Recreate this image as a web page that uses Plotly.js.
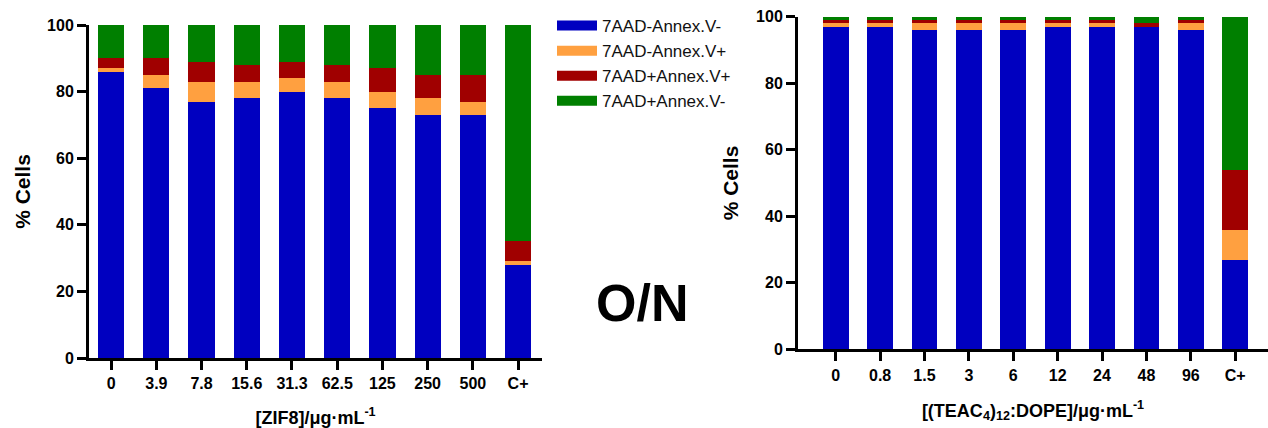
<!DOCTYPE html>
<html>
<head>
<meta charset="utf-8">
<script src="https://cdn.plot.ly/plotly-3.0.1.min.js"></script>
<style>html,body{margin:0;padding:0;background:#fff;}#chart{width:1268px;height:428px;}</style>
</head>
<body>
<div id="chart"></div>
<script>
// ---- Data ----
const seriesNames = ["7AAD-Annex.V-", "7AAD-Annex.V+", "7AAD+Annex.V+", "7AAD+Annex.V-"];
const seriesColors = ["#0000c0", "#ffa040", "#a00000", "#007f00"];

const zifCategories = ["0", "3.9", "7.8", "15.6", "31.3", "62.5", "125", "250", "500", "C+"];
const zifLiveNeg   = [86, 81, 77, 78, 80, 78, 75, 73, 73, 28];
const zifEarlyApop = [1, 4, 6, 5, 4, 5, 5, 5, 4, 1];
const zifLateApop  = [3, 5, 6, 5, 5, 5, 7, 7, 8, 6];
const zifNecrotic  = [10, 10, 11, 12, 11, 12, 13, 15, 15, 65];

const teacCategories = ["0", "0.8", "1.5", "3", "6", "12", "24", "48", "96", "C+"];
const teacLiveNeg   = [97, 97, 96, 96, 96, 97, 97, 97, 96, 27];
const teacEarlyApop = [1, 1, 2, 2, 2, 1, 1, 0, 2, 9];
const teacLateApop  = [1, 1, 1, 1, 1, 1, 1, 1, 1, 18];
const teacNecrotic  = [1, 1, 1, 1, 1, 1, 1, 2, 1, 46];

const zifSeries = [zifLiveNeg, zifEarlyApop, zifLateApop, zifNecrotic];
const teacSeries = [teacLiveNeg, teacEarlyApop, teacLateApop, teacNecrotic];

// ---- Traces ----
const traces = [];
zifSeries.forEach((vals, i) => {
  traces.push({
    type: "bar", x: zifCategories, y: vals, name: seriesNames[i],
    marker: {color: seriesColors[i], line: {width: 0}},
    xaxis: "x", yaxis: "y", showlegend: false, width: 0.58, hoverinfo: "y"
  });
});
teacSeries.forEach((vals, i) => {
  traces.push({
    type: "bar", x: teacCategories, y: vals, name: seriesNames[i],
    marker: {color: seriesColors[i], line: {width: 0}},
    xaxis: "x2", yaxis: "y2", showlegend: false, width: 0.58, hoverinfo: "y"
  });
});
// legend entries (wide swatches)
seriesNames.forEach((n, i) => {
  traces.push({
    type: "scatter", mode: "lines", x: [null], y: [null], name: n,
    line: {color: seriesColors[i], width: 12},
    xaxis: "x", yaxis: "y", showlegend: true, hoverinfo: "skip"
  });
});

const tickFont = {family: "Liberation Sans, Arial, sans-serif", size: 16, color: "#000", weight: "bold"};
const titleFont = {family: "Liberation Sans, Arial, sans-serif", size: 18, color: "#000", weight: "bold"};
const yTitleFont = {family: "Liberation Sans, Arial, sans-serif", size: 21, color: "#000", weight: "bold"};

const yBase = {
  range: [0, 100], tickvals: [0, 20, 40, 60, 80, 100], ticks: "outside", ticklen: 9, tickwidth: 3,
  tickcolor: "#000", showline: true, linecolor: "#000", linewidth: 3, showgrid: false, zeroline: false,
  tickfont: tickFont, fixedrange: true
};
const xBase = {
  type: "category", ticks: "outside", ticklen: 9, tickwidth: 3, tickcolor: "#000",
  showline: true, linecolor: "#000", linewidth: 3, showgrid: false, zeroline: false,
  tickfont: tickFont, fixedrange: true
};

const layout = {
  width: 1268, height: 428,
  margin: {l: 0, r: 0, t: 0, b: 0},
  paper_bgcolor: "#fff", plot_bgcolor: "#fff",
  barmode: "stack",
  showlegend: true,
  legend: {
    x: 552/1268, y: 1 - 8/428, xanchor: "left", yanchor: "top",
    traceorder: "normal",
    font: {family: "Liberation Sans, Arial, sans-serif", size: 17, color: "#111"},
    bgcolor: "rgba(0,0,0,0)", itemwidth: 40, tracegroupgap: 0
  },
  xaxis: Object.assign({}, xBase, {
    domain: [89/1268, 542/1268], anchor: "y", range: [-0.49, 9.53],
    title: {text: "[ZIF8]/μg·mL<sup>-1</sup>", font: titleFont, standoff: 21}
  }),
  yaxis: Object.assign({}, yBase, {
    domain: [(428-358)/428, (428-25)/428], anchor: "x",
    title: {text: "% Cells", font: yTitleFont, standoff: 11}
  }),
  xaxis2: Object.assign({}, xBase, {
    domain: [798/1268, 1], anchor: "y2", range: [-0.85, 9.74],
    title: {text: "[(TEAC<sub>4</sub>)<sub>12</sub>:DOPE]/μg·mL<sup>-1</sup>", font: titleFont, standoff: 22}
  }),
  yaxis2: Object.assign({}, yBase, {
    domain: [(428-349.3)/428, (428-16.7)/428], anchor: "x2",
    title: {text: "% Cells", font: yTitleFont, standoff: 12}
  }),
  annotations: [{
    text: "O/N", xref: "paper", yref: "paper", x: 642/1268, y: 1 - 303/428,
    xanchor: "center", yanchor: "middle", showarrow: false,
    font: {family: "Liberation Sans, Arial, sans-serif", size: 52, color: "#000", weight: "bold"}
  }]
};

Plotly.newPlot("chart", traces, layout, {displayModeBar: false, staticPlot: true});
</script>
</body>
</html>
